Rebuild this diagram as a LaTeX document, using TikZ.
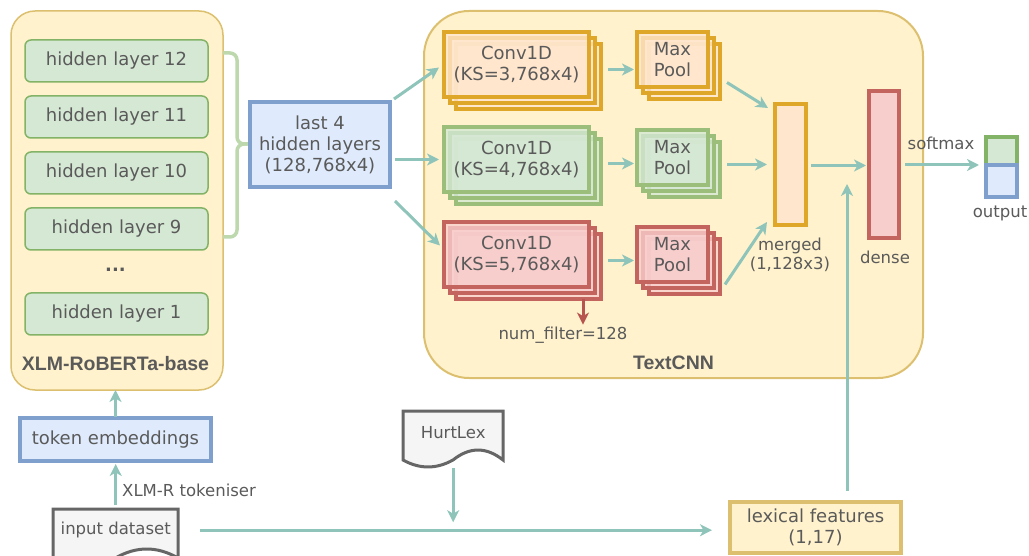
\documentclass[tikz,border=0pt]{standalone}
\usepackage{fontspec}
\setmainfont{DejaVu Sans}
\newfontfamily\headfont{Liberation Sans}
\usetikzlibrary{arrows.meta,calc}

\definecolor{txtgrey}{HTML}{5A5A5A}
\definecolor{yfill}{HTML}{FFF2CC}
\definecolor{yline}{HTML}{DCC070}
\definecolor{gfill}{HTML}{D5E8D4}
\definecolor{gline}{HTML}{82B366}
\definecolor{gstack}{HTML}{9BBF7A}
\definecolor{bfill}{HTML}{DFEBFC}
\definecolor{bline}{HTML}{7F9FCC}
\definecolor{ofill}{HTML}{FFE6CC}
\definecolor{oline}{HTML}{DFA72A}
\definecolor{rfill}{HTML}{F8CECC}
\definecolor{rline}{HTML}{C4645F}
\definecolor{flowteal}{HTML}{8EC4B9}
\definecolor{bracegreen}{HTML}{BCD8AC}
\definecolor{docfill}{HTML}{F5F5F5}
\definecolor{docline}{HTML}{666666}
\definecolor{redarrow}{HTML}{B85450}

\begin{document}
\begin{tikzpicture}[x=1pt,y=-1pt,
  lbl/.style={text=txtgrey, font=\fontsize{18}{21}\selectfont, align=center, inner sep=0pt},
  smalllbl/.style={text=txtgrey, font=\fontsize{16.5}{19}\selectfont, align=center, inner sep=0pt},
  headlbl/.style={text=txtgrey, font=\headfont\bfseries\fontsize{19.5}{22}\selectfont, inner sep=0pt},
  box/.style={lbl, draw, anchor=north west, outer sep=0pt},
  container/.style={box, fill=yfill, draw=yline, line width=2pt},
  layerbox/.style={box, fill=gfill, draw=gline, line width=1.5pt, rounded corners=6pt, minimum width=183pt, minimum height=42pt},
  bluebox/.style={box, fill=bfill, draw=bline, line width=4pt},
  convbox/.style={box, line width=3.5pt, minimum width=145pt, minimum height=65pt, fill opacity=0.8, text opacity=1},
  poolbox/.style={box, line width=3.5pt, minimum width=71pt, minimum height=55pt, fill opacity=0.8, text opacity=1},
  barbox/.style={box, line width=4pt},
  flow/.style={draw=flowteal, line width=3pt, -{Stealth[length=12pt,width=12pt,inset=3.5pt]}},
  docshape/.style={fill=docfill, draw=docline, line width=3pt}
]
\useasboundingbox (0,0) rectangle (1029,556);
\clip (0,0) rectangle (1029,556);

% ---- encoder ----
\node[container, rounded corners=24pt, line width=1.5pt, minimum width=212pt, minimum height=379pt] (xlm) at (11,11) {};
\node[headlbl] (xlmname) at (115.5,364) {XLM-RoBERTa-base};
\node[layerbox] (h12) at (25,40) {hidden layer 12};
\node[layerbox] (h11) at (25,96) {hidden layer 11};
\node[layerbox] (h10) at (25,152) {hidden layer 10};
\node[layerbox] (h9) at (25,208) {hidden layer 9};
\node[lbl, font=\bfseries\fontsize{18}{21}\selectfont] (hdots) at (115.5,270) {...};
\node[layerbox] (h1) at (25,293) {hidden layer 1};

% brace grouping the top four layers
\draw[draw=bracegreen, line width=3.5pt, rounded corners=7pt]
  (223,53) -- (237,53) -- (237,144) -- (250,144);
\draw[draw=bracegreen, line width=3.5pt, rounded corners=7pt]
  (223,237) -- (237,237) -- (237,144) -- (250,144);

\node[bluebox, minimum width=140pt, minimum height=85pt] (last4) at (250,102) {last 4\\hidden layers\\(128,768x4)};

% ---- TextCNN ----
\node[container, rounded corners=45pt, minimum width=499pt, minimum height=367pt] (cnn) at (424,11) {};
\node[headlbl] (cnnname) at (673.5,363) {TextCNN};

% convolution stacks
\node[convbox, fill=ofill, draw=oline] (conv1c) at (456,44) {};
\node[convbox, fill=ofill, draw=oline] (conv1b) at (450,38) {};
\node[convbox, fill=ofill, draw=oline] (conv1) at (444,32) {Conv1D\\(KS=3,768x4)};

\node[convbox, fill=gfill, draw=gstack] (conv2c) at (456,139) {};
\node[convbox, fill=gfill, draw=gstack] (conv2b) at (450,133) {};
\node[convbox, fill=gfill, draw=gstack] (conv2) at (444,127) {Conv1D\\(KS=4,768x4)};

\node[convbox, fill=rfill, draw=rline] (conv3c) at (456,234) {};
\node[convbox, fill=rfill, draw=rline] (conv3b) at (450,228) {};
\node[convbox, fill=rfill, draw=rline] (conv3) at (444,222) {Conv1D\\(KS=5,768x4)};

% pooling stacks
\node[poolbox, fill=ofill, draw=oline] (pool1c) at (649,44) {};
\node[poolbox, fill=ofill, draw=oline] (pool1b) at (643,38) {};
\node[poolbox, fill=ofill, draw=oline] (pool1) at (637,32) {Max\\Pool};

\node[poolbox, fill=gfill, draw=gstack] (pool2c) at (649,142) {};
\node[poolbox, fill=gfill, draw=gstack] (pool2b) at (643,136) {};
\node[poolbox, fill=gfill, draw=gstack] (pool2) at (637,130) {Max\\Pool};

\node[poolbox, fill=rfill, draw=rline] (pool3c) at (649,239) {};
\node[poolbox, fill=rfill, draw=rline] (pool3b) at (643,233) {};
\node[poolbox, fill=rfill, draw=rline] (pool3) at (637,227) {Max\\Pool};

\node[barbox, fill=ofill, draw=oline, minimum width=31pt, minimum height=121pt] (merged) at (775,104) {};
\node[smalllbl] (mergedname) at (790,254.5) {merged\\(1,128x3)};
\node[barbox, fill=rfill, draw=rline, minimum width=30pt, minimum height=147pt] (dense) at (869,91) {};
\node[smalllbl] (densename) at (885,257) {dense};

\node[smalllbl] (nf) at (563,335) {num\_filter=128};

% ---- output ----
\node[barbox, fill=gfill, draw=gline, minimum width=31pt, minimum height=28pt] (outa) at (986,137) {};
\node[barbox, fill=bfill, draw=bline, minimum width=31pt, minimum height=32pt] (outb) at (986,165) {};
\node[smalllbl] (outname) at (1000,213) {output};

% ---- inputs ----
\node[bluebox, minimum width=191pt, minimum height=43pt] (tok) at (20,418) {token embeddings};

\draw[docshape] (53,509) -- (178,509) -- (178,558)
  .. controls (157.2,546) and (136.3,546) .. (115.5,558)
  .. controls (94.7,570) and (74.3,570) .. (53,558) -- cycle;
\node[smalllbl, anchor=north west, minimum width=125pt, minimum height=42pt] (input) at (53,509) {input dataset};

\draw[docshape] (403,411) -- (503,411) -- (503,460)
  .. controls (486.3,446.7) and (469.7,446.7) .. (453,460)
  .. controls (436.3,469.3) and (419.7,469.3) .. (403,460) -- cycle;
\node[smalllbl, anchor=north west, minimum width=100pt, minimum height=43pt] (hurt) at (403,411) {HurtLex};

\node[box, fill=yfill, draw=yline, line width=4pt, minimum width=171pt, minimum height=51pt] (lex) at (730,502) {lexical features\\(1,17)};

% ---- connectors ----
\draw[flow] ([shift={(4,-3)}]last4.north east) -- ([shift={(-5,3)}]conv1.west);
\draw[flow] ([shift={(5,0)}]last4.east |- conv2.west) -- ([shift={(-5,0)}]conv2.west);
\draw[flow] ([shift={(5,14)}]last4.south east) -- ([shift={(-4,-9)}]conv3.west);

\draw[flow] ([shift={(19,5)}]conv1.east) coordinate (c1o) -- ($(c1o -| pool1.west)+(-3,0)$);
\draw[flow] ([shift={(19,4)}]conv2.east) coordinate (c2o) -- ($(c2o -| pool2.west)+(-3,0)$);
\draw[flow] ([shift={(19,6)}]conv3.east) coordinate (c3o) -- ($(c3o -| pool3.west)+(-3,0)$);

\draw[flow] ([shift={(19,23)}]pool1.east) -- ([shift={(-7,4)}]merged.north west);
\draw[flow] ([xshift=-48pt]merged.west) -- ([shift={(-8,0)}]merged.west);
\draw[flow] ([shift={(17,30)}]pool3.east) -- ([shift={(-8,-3)}]merged.south west);

\draw[flow] ([shift={(5,1)}]merged.east) -- ([shift={(-3,1)}]dense.west);
\coordinate (lexjoin) at (847,184);
\draw[flow] ([shift={(31.5,-11)}]lex.north) -- (lexjoin);

\draw[flow] ([shift={(6,0)}]dense.east |- outa.south west) -- ([shift={(-7,0)}]outa.south west);
\node[smalllbl] (softmaxname) at (941,143) {softmax};

\draw[draw=redarrow, line width=3pt, -{Stealth[length=12pt,width=12pt,inset=3.5pt]}]
  ([shift={(-18,0)}]conv3c.south east) coordinate (nfs) -- ($(nfs |- nf.north)+(0,-2)$);

\draw[flow] ([shift={(0,-1)}]tok.north) -- (tok.north |- xlm.south);
\draw[flow] ([shift={(0,-4)}]input.north) -- ([shift={(0,3)}]input.north |- tok.south);
\node[smalllbl, anchor=west] (tokname) at (122,490) {XLM-R tokeniser};

\draw[flow] ([shift={(22,0)}]input.east) -- ($(input.east -| lex.west)+(-18,0)$);
\draw[flow] ([shift={(0,14)}]hurt.south) -- ($(hurt.south |- input.east)+(0,-8)$);
\end{tikzpicture}
\end{document}
